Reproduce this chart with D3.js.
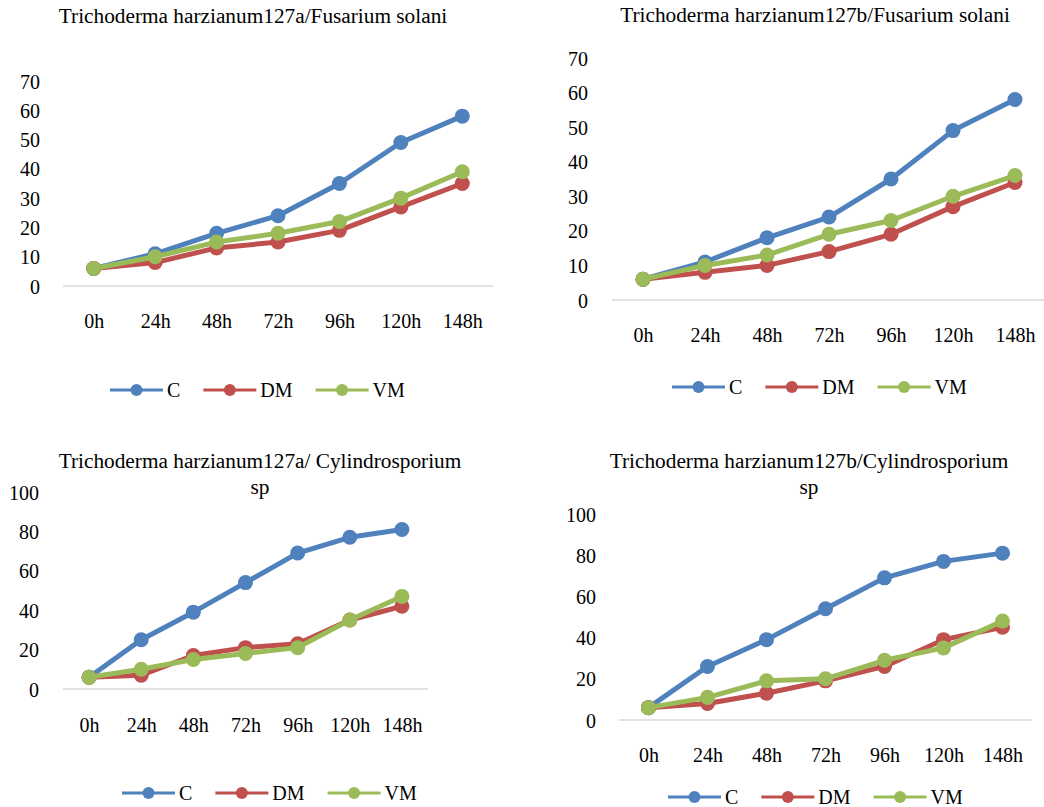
<!DOCTYPE html>
<html>
<head>
<meta charset="utf-8">
<script src="https://cdn.jsdelivr.net/npm/d3@7"></script>
<style>
  html, body { margin: 0; padding: 0; background: #fff; }
  svg { display: block; }
  text { font-family: "Liberation Serif", "Times New Roman", serif; fill: #000; }
</style>
</head>
<body>
<svg id="chart" width="1044" height="807"></svg>
<script>
// ---------- DATA ----------
const categories = ["0h", "24h", "48h", "72h", "96h", "120h", "148h"];
const seriesNames = ["C", "DM", "VM"];
const seriesColors = ["#4F81BD", "#C0504D", "#9BBB59"];

const titles = [
  ["Trichoderma harzianum127a/Fusarium solani"],
  ["Trichoderma harzianum127b/Fusarium solani"],
  ["Trichoderma harzianum127a/ Cylindrosporium", "sp"],
  ["Trichoderma harzianum127b/Cylindrosporium", "sp"]
];

// Panel 1: T. harzianum 127a / Fusarium solani
const p1C  = [6, 11, 18, 24, 35, 49, 58];
const p1DM = [6, 8, 13, 15, 19, 27, 35];
const p1VM = [6, 10, 15, 18, 22, 30, 39];
// Panel 2: T. harzianum 127b / Fusarium solani
const p2C  = [6, 11, 18, 24, 35, 49, 58];
const p2DM = [6, 8, 10, 14, 19, 27, 34];
const p2VM = [6, 10, 13, 19, 23, 30, 36];
// Panel 3: T. harzianum 127a / Cylindrosporium sp
const p3C  = [6, 25, 39, 54, 69, 77, 81];
const p3DM = [6, 7, 17, 21, 23, 35, 42];
const p3VM = [6, 10, 15, 18, 21, 35, 47];
// Panel 4: T. harzianum 127b / Cylindrosporium sp
const p4C  = [6, 26, 39, 54, 69, 77, 81];
const p4DM = [6, 8, 13, 19, 26, 39, 45];
const p4VM = [6, 11, 19, 20, 29, 35, 48];

const ticksFusarium = [0, 10, 20, 30, 40, 50, 60, 70];
const ticksCylindro = [0, 20, 40, 60, 80, 100];

// ---------- LAYOUT ----------
const panels = [
  { series: [p1C, p1DM, p1VM], ticks: ticksFusarium, title: titles[0],
    x0: 63, x1: 493, yZero: 286, yTop: 81, labelRight: 40, xLabelY: 321,
    titleX: 253, titleY: 16, legendX: 110, legendY: 390 },
  { series: [p2C, p2DM, p2VM], ticks: ticksFusarium, title: titles[1],
    x0: 612, x1: 1046, yZero: 300, yTop: 58, labelRight: 588, xLabelY: 335,
    titleX: 815, titleY: 15, legendX: 672, legendY: 387 },
  { series: [p3C, p3DM, p3VM], ticks: ticksCylindro, title: titles[2],
    x0: 63, x1: 428, yZero: 689, yTop: 492, labelRight: 39, xLabelY: 725,
    titleX: 260, titleY: 461, legendX: 122, legendY: 793 },
  { series: [p4C, p4DM, p4VM], ticks: ticksCylindro, title: titles[3],
    x0: 619, x1: 1032, yZero: 720, yTop: 514, labelRight: 596, xLabelY: 755,
    titleX: 809, titleY: 461, legendX: 668, legendY: 797 }
];

const svg = d3.select("#chart");
const FONT = 20;

panels.forEach(p => {
  const g = svg.append("g");
  const x = d3.scalePoint().domain(categories).range([p.x0, p.x1]).padding(0.5);
  const y = d3.scaleLinear().domain([0, d3.max(p.ticks)]).range([p.yZero, p.yTop]);

  // Title
  const t = g.append("text")
    .attr("text-anchor", "middle")
    .attr("font-size", 21.3);
  p.title.forEach((line, i) => {
    t.append("tspan")
      .attr("x", p.titleX)
      .attr("y", p.titleY + i * 26)
      .attr("dy", "0.35em")
      .text(line);
  });

  // Y axis (labels only)
  const yAxis = d3.axisLeft(y).tickValues(p.ticks).tickSize(0).tickPadding(0).tickFormat(d3.format("d"));
  const ya = g.append("g").attr("transform", `translate(${p.labelRight},0)`).call(yAxis);
  ya.attr("font-family", null);
  ya.select(".domain").remove();
  ya.selectAll("text").attr("font-size", FONT).style("fill", "#000").attr("dy", "0.35em");

  // X axis (baseline + labels)
  const xAxis = d3.axisBottom(x).tickSize(0).tickSizeOuter(0);
  const xa = g.append("g").attr("transform", `translate(0,${p.yZero})`).call(xAxis);
  xa.attr("font-family", null);
  xa.select(".domain").attr("stroke", "#d9d9d9").attr("stroke-width", 1.3)
    .attr("d", `M${p.x0},0H${p.x1}`);
  xa.selectAll("text").attr("font-size", FONT).style("fill", "#000")
    .attr("y", p.xLabelY - p.yZero).attr("dy", "0.35em");

  // Lines + markers
  const line = d3.line().x((d, i) => x(categories[i])).y(d => y(d));
  p.series.forEach((vals, si) => {
    g.append("path")
      .datum(vals)
      .attr("fill", "none")
      .attr("stroke", seriesColors[si])
      .attr("stroke-width", 5)
      .attr("stroke-linejoin", "round")
      .attr("d", line);
    g.selectAll(null)
      .data(vals)
      .enter()
      .append("circle")
      .attr("cx", (d, i) => x(categories[i]))
      .attr("cy", d => y(d))
      .attr("r", 7.5)
      .attr("fill", seriesColors[si]);
  });

  // Legend
  let lx = p.legendX;
  seriesNames.forEach((name, si) => {
    const lg = g.append("g");
    lg.append("line")
      .attr("x1", lx).attr("x2", lx + 53)
      .attr("y1", p.legendY).attr("y2", p.legendY)
      .attr("stroke", seriesColors[si]).attr("stroke-width", 3);
    lg.append("circle")
      .attr("cx", lx + 26.5).attr("cy", p.legendY).attr("r", 6)
      .attr("fill", seriesColors[si]);
    const tx = lg.append("text")
      .attr("x", lx + 57).attr("y", p.legendY).attr("dy", "0.35em")
      .attr("font-size", FONT)
      .text(name);
    const w = tx.node().getComputedTextLength();
    lx = lx + 57 + w + 23;
  });
});
</script>
</body>
</html>
